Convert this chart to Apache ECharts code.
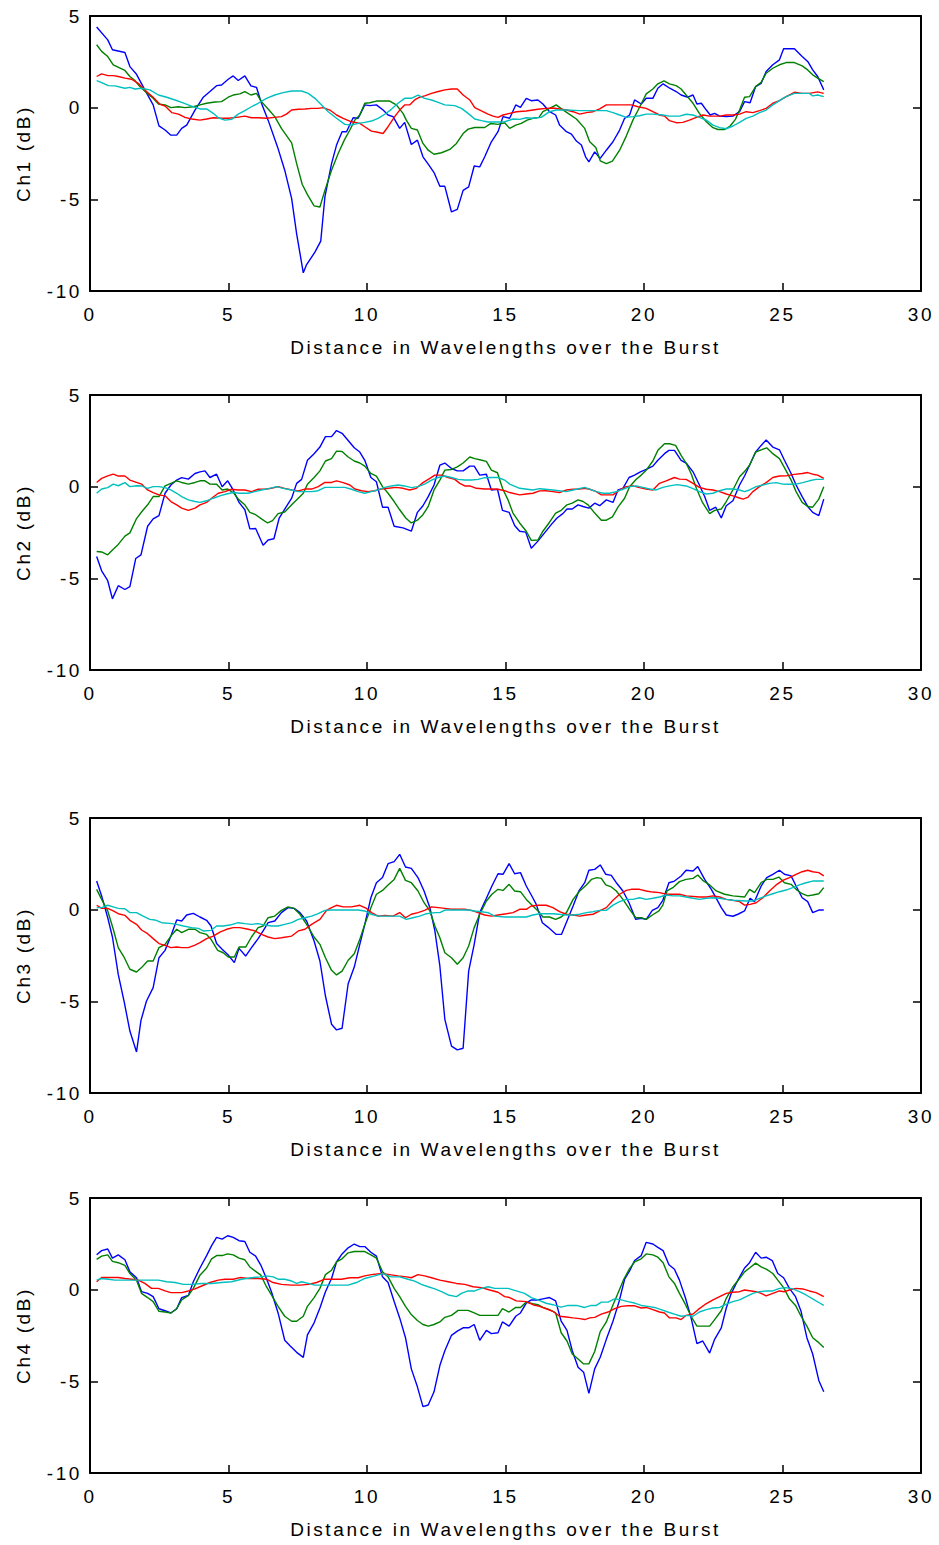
<!DOCTYPE html>
<html>
<head>
<meta charset="utf-8">
<script src="https://cdn.jsdelivr.net/npm/echarts@6/dist/echarts.min.js"></script>
<style>
  html, body { margin: 0; padding: 0; background: #fff; }
  #chart { width: 939px; height: 1545px; }
  #chart text { letter-spacing: 2.6px; }
</style>
</head>
<body>
<div id="chart"></div>
<script>
// Axis ticks shared by every panel
const xTicks = [0, 5, 10, 15, 20, 25, 30];
const yTicks = [-10, -5, 0, 5];
const xTitle = 'Distance in Wavelengths over the Burst';
const yTitles = ['Ch1 (dB)', 'Ch2 (dB)', 'Ch3 (dB)', 'Ch4 (dB)'];

// Channel 1 traces: [distance, dB]
const ch1Blue = [[0.24,4.40],[0.64,3.70],[0.81,3.16],[1.26,3.01],[1.44,2.24],[1.68,1.82],[1.98,0.97],[2.28,0.15],[2.49,-0.99],[2.71,-1.22],[2.92,-1.50],[3.13,-1.50],[3.31,-1.13],[3.49,-0.95],[3.79,-0.13],[4.09,0.57],[4.33,0.88],[4.57,1.20],[4.75,1.24],[4.99,1.55],[5.17,1.73],[5.35,1.48],[5.59,1.73],[5.81,1.19],[6.01,1.11],[6.19,0.24],[6.43,-0.68],[6.77,-2.14],[7.03,-3.41],[7.28,-4.96],[7.46,-6.88],[7.70,-9.01],[7.82,-8.56],[8.12,-7.88],[8.33,-7.28],[8.48,-4.87],[8.72,-3.05],[8.90,-2.04],[9.10,-1.31],[9.26,-1.31],[9.50,-0.55],[9.68,-0.58],[9.92,0.15],[10.10,0.11],[10.34,0.15],[10.58,-0.13],[10.76,-0.40],[10.94,-0.49],[11.18,-1.13],[11.36,-0.80],[11.60,-2.01],[11.82,-1.77],[12.02,-2.68],[12.21,-3.08],[12.42,-3.54],[12.63,-4.29],[12.81,-4.29],[13.05,-5.69],[13.26,-5.55],[13.47,-4.51],[13.67,-4.32],[13.87,-3.18],[14.07,-3.23],[14.25,-2.68],[14.49,-1.86],[14.73,-1.31],[14.91,-0.49],[15.15,-0.58],[15.37,0.15],[15.54,0.02],[15.75,0.51],[15.93,0.38],[16.17,0.42],[16.35,0.20],[16.59,-0.22],[16.81,-0.40],[16.95,-0.95],[17.20,-1.31],[17.38,-1.44],[17.56,-1.82],[17.74,-2.04],[17.89,-2.68],[18.01,-2.96],[18.22,-2.41],[18.42,-2.77],[18.64,-2.32],[18.88,-1.86],[19.12,-1.22],[19.30,-0.58],[19.48,-0.40],[19.66,0.42],[19.90,0.20],[20.08,0.51],[20.32,0.51],[20.50,1.06],[20.69,1.30],[20.93,1.06],[21.16,0.88],[21.34,0.69],[21.58,0.57],[21.77,0.69],[21.91,0.20],[22.07,0.24],[22.25,-0.13],[22.39,-0.40],[22.55,-0.31],[22.73,-0.46],[22.97,-0.49],[23.21,-0.46],[23.45,-0.22],[23.63,0.33],[23.83,0.27],[24.03,1.15],[24.23,1.33],[24.41,1.97],[24.65,2.34],[24.89,2.61],[25.04,3.21],[25.43,3.21],[25.71,2.79],[25.91,2.52],[26.09,2.06],[26.27,1.70],[26.49,0.97]];
const ch1Green = [[0.24,3.43],[0.42,3.07],[0.64,2.79],[0.84,2.34],[1.26,2.03],[1.44,1.70],[1.62,1.48],[1.80,1.15],[2.04,0.82],[2.28,0.51],[2.47,0.20],[2.71,0.15],[2.92,0.00],[3.19,0.05],[3.43,0.00],[3.73,0.05],[3.97,0.15],[4.21,0.24],[4.51,0.31],[4.75,0.33],[4.99,0.57],[5.17,0.69],[5.41,0.75],[5.59,0.88],[5.81,0.69],[6.01,0.78],[6.19,0.33],[6.43,-0.07],[6.67,-0.49],[6.91,-1.13],[7.28,-1.92],[7.46,-3.05],[7.66,-4.18],[7.85,-4.74],[8.09,-5.36],[8.30,-5.42],[8.48,-4.51],[8.72,-3.41],[8.96,-2.50],[9.18,-1.77],[9.38,-1.22],[9.56,-0.68],[9.74,-0.40],[9.92,0.24],[10.10,0.27],[10.34,0.36],[10.82,0.36],[11.06,0.15],[11.30,-0.31],[11.42,-0.68],[11.60,-1.13],[11.82,-1.22],[12.02,-1.95],[12.21,-2.32],[12.42,-2.54],[12.69,-2.46],[12.99,-2.28],[13.23,-1.95],[13.47,-1.41],[13.65,-1.17],[13.89,-1.08],[14.25,-1.08],[14.47,-0.86],[14.73,-0.91],[14.97,-0.82],[15.15,-1.13],[15.37,-0.95],[15.57,-0.86],[15.78,-0.68],[15.99,-0.58],[16.21,-0.53],[16.35,-0.22],[16.59,-0.04],[16.83,0.15],[17.01,-0.05],[17.26,-0.31],[17.56,-0.62],[17.86,-1.13],[18.04,-1.86],[18.26,-2.17],[18.42,-2.90],[18.64,-3.05],[18.86,-2.92],[19.12,-2.32],[19.36,-1.55],[19.60,-0.68],[19.84,0.02],[20.08,0.75],[20.32,1.02],[20.50,1.30],[20.72,1.46],[20.92,1.30],[21.16,1.20],[21.34,1.02],[21.52,0.69],[21.77,0.24],[22.00,-0.31],[22.25,-0.77],[22.49,-1.09],[22.67,-1.19],[22.91,-1.19],[23.11,-1.00],[23.30,-0.64],[23.45,-0.13],[23.63,0.57],[23.81,0.60],[24.03,1.15],[24.23,1.39],[24.41,1.88],[24.65,2.15],[24.89,2.34],[25.13,2.46],[25.43,2.46],[25.71,2.28],[25.91,2.06],[26.09,1.79],[26.27,1.61],[26.49,1.42]];
const ch1Red = [[0.24,1.70],[0.42,1.84],[0.64,1.75],[0.84,1.75],[1.02,1.70],[1.26,1.61],[1.50,1.55],[1.74,1.33],[2.04,0.88],[2.28,0.57],[2.53,0.18],[2.71,0.09],[2.95,-0.27],[3.19,-0.35],[3.43,-0.53],[3.67,-0.62],[3.97,-0.68],[4.21,-0.62],[4.45,-0.55],[4.75,-0.58],[4.99,-0.58],[5.29,-0.53],[5.59,-0.46],[5.83,-0.55],[6.07,-0.55],[6.37,-0.58],[6.67,-0.53],[6.91,-0.49],[7.09,-0.35],[7.28,-0.13],[7.52,-0.09],[7.76,-0.07],[8.00,-0.04],[8.24,-0.04],[8.42,0.00],[8.66,-0.13],[8.90,-0.40],[9.14,-0.58],[9.44,-0.77],[9.74,-0.86],[9.92,-1.04],[10.16,-1.28],[10.34,-1.33],[10.58,-1.41],[10.76,-1.04],[11.00,-0.49],[11.18,-0.13],[11.36,0.15],[11.54,0.15],[11.72,0.42],[11.90,0.57],[12.08,0.64],[12.33,0.78],[12.57,0.88],[12.81,0.97],[13.05,1.02],[13.26,1.02],[13.47,0.69],[13.71,0.42],[13.89,0.00],[14.13,-0.18],[14.37,-0.35],[14.55,-0.46],[14.73,-0.53],[14.91,-0.40],[15.15,-0.31],[15.39,-0.22],[15.75,-0.18],[16.17,-0.09],[16.47,-0.04],[16.71,-0.02],[16.95,-0.07],[17.20,-0.13],[17.44,-0.22],[17.68,-0.35],[17.92,-0.27],[18.16,-0.22],[18.40,-0.07],[18.64,0.15],[19.12,0.15],[19.54,0.15],[19.78,0.05],[20.08,-0.04],[20.32,-0.22],[20.56,-0.40],[20.74,-0.46],[20.92,-0.71],[21.16,-0.82],[21.40,-0.80],[21.64,-0.68],[21.89,-0.53],[22.13,-0.40],[22.37,-0.46],[22.73,-0.46],[22.97,-0.40],[23.21,-0.40],[23.45,-0.35],[23.69,-0.22],[23.93,-0.27],[24.17,-0.16],[24.41,-0.04],[24.65,0.24],[24.89,0.38],[25.13,0.60],[25.43,0.84],[25.71,0.78],[25.97,0.78],[26.27,0.86],[26.49,0.78]];
const ch1Cyan = [[0.24,1.48],[0.42,1.37],[0.66,1.20],[0.90,1.19],[1.26,1.06],[1.44,1.11],[1.62,1.02],[1.86,1.06],[2.16,0.97],[2.47,0.69],[2.77,0.57],[3.07,0.42],[3.31,0.29],[3.55,0.15],[3.79,0.02],[3.97,-0.07],[4.21,-0.07],[4.45,-0.31],[4.63,-0.55],[4.87,-0.68],[5.11,-0.64],[5.35,-0.35],[5.59,-0.16],[5.83,0.05],[6.07,0.24],[6.37,0.51],[6.67,0.69],[6.97,0.82],[7.28,0.91],[7.64,0.91],[7.88,0.78],[8.12,0.51],[8.36,0.15],[8.60,-0.22],[8.90,-0.58],[9.20,-0.91],[9.44,-0.95],[9.68,-0.86],[9.92,-0.80],[10.16,-0.73],[10.40,-0.58],[10.64,-0.36],[10.88,-0.09],[11.12,0.24],[11.36,0.51],[11.60,0.51],[11.84,0.69],[12.08,0.51],[12.33,0.42],[12.57,0.29],[12.81,0.15],[13.17,0.11],[13.41,-0.04],[13.65,-0.31],[13.89,-0.62],[14.13,-0.71],[14.37,-0.78],[14.73,-0.78],[14.97,-0.77],[15.27,-0.62],[15.51,-0.64],[15.75,-0.55],[15.99,-0.58],[16.29,-0.53],[16.59,-0.22],[16.83,-0.13],[17.20,-0.13],[17.68,-0.16],[18.04,-0.16],[18.64,-0.16],[18.88,-0.27],[19.12,-0.40],[19.36,-0.53],[19.60,-0.49],[19.84,-0.44],[20.08,-0.35],[20.32,-0.35],[20.68,-0.40],[20.92,-0.46],[21.28,-0.46],[21.52,-0.36],[21.77,-0.40],[22.00,-0.53],[22.25,-0.68],[22.49,-0.95],[22.73,-1.09],[22.97,-1.15],[23.21,-1.00],[23.45,-0.80],[23.69,-0.58],[23.93,-0.46],[24.17,-0.27],[24.41,-0.13],[24.65,0.15],[24.89,0.38],[25.13,0.60],[25.43,0.78],[25.71,0.78],[25.97,0.78],[26.09,0.64],[26.27,0.69],[26.49,0.60]];

// Channel 2 traces
const ch2Blue = [[0.24,-3.81],[0.42,-4.59],[0.64,-5.13],[0.81,-6.12],[1.02,-5.40],[1.26,-5.61],[1.44,-5.45],[1.65,-3.92],[1.84,-3.72],[2.08,-2.16],[2.28,-1.76],[2.49,-1.58],[2.71,-0.36],[2.92,0.09],[3.13,0.36],[3.31,0.49],[3.55,0.41],[3.79,0.72],[3.97,0.81],[4.15,0.86],[4.33,0.50],[4.57,0.68],[4.77,0.00],[4.97,0.32],[5.17,-0.18],[5.38,-0.86],[5.59,-1.26],[5.77,-2.30],[5.98,-2.28],[6.25,-3.20],[6.43,-2.91],[6.64,-2.84],[6.83,-1.71],[7.03,-1.22],[7.28,-0.63],[7.46,0.18],[7.64,0.40],[7.85,1.44],[8.09,1.80],[8.30,2.16],[8.50,2.73],[8.72,2.73],[8.90,3.06],[9.10,2.91],[9.32,2.52],[9.54,2.12],[9.74,1.89],[9.92,1.44],[10.14,0.50],[10.34,0.27],[10.56,-1.12],[10.76,-1.12],[10.98,-2.16],[11.30,-2.25],[11.60,-2.43],[11.82,-1.40],[12.02,-1.04],[12.21,-0.54],[12.42,0.09],[12.63,1.17],[12.81,1.29],[13.05,0.99],[13.26,0.86],[13.47,0.86],[13.71,1.12],[13.87,1.12],[14.07,0.63],[14.31,0.68],[14.49,-0.18],[14.71,-0.14],[14.89,-1.29],[15.13,-1.40],[15.33,-2.12],[15.51,-2.43],[15.73,-2.48],[15.93,-3.36],[16.17,-2.97],[16.41,-2.52],[16.65,-2.07],[16.86,-1.71],[17.07,-1.47],[17.22,-1.22],[17.41,-1.22],[17.62,-0.99],[17.80,-1.08],[18.01,-1.17],[18.22,-0.90],[18.40,-1.04],[18.64,-0.72],[18.88,-0.86],[19.06,-0.18],[19.24,-0.09],[19.46,0.50],[19.66,0.63],[19.87,0.81],[20.08,0.94],[20.32,1.12],[20.50,1.44],[20.74,1.80],[20.90,1.98],[21.10,1.98],[21.34,1.44],[21.52,1.29],[21.77,0.81],[22.00,0.09],[22.19,-0.54],[22.37,-1.29],[22.59,-1.12],[22.79,-1.71],[22.97,-1.04],[23.21,-0.77],[23.45,0.09],[23.63,0.58],[23.81,1.17],[24.03,1.89],[24.23,2.25],[24.41,2.55],[24.65,2.16],[24.89,2.01],[25.07,1.44],[25.31,0.72],[25.49,0.09],[25.71,-0.54],[25.91,-1.08],[26.09,-1.40],[26.31,-1.58],[26.49,-0.68]];
const ch2Green = [[0.24,-3.54],[0.42,-3.56],[0.64,-3.72],[0.84,-3.42],[1.02,-3.15],[1.26,-2.70],[1.44,-2.52],[1.68,-1.74],[1.86,-1.38],[2.08,-0.99],[2.28,-0.54],[2.49,-0.54],[2.71,0.04],[2.92,0.18],[3.13,0.32],[3.31,0.23],[3.55,0.14],[3.79,0.23],[3.97,0.32],[4.15,0.32],[4.33,0.14],[4.57,0.13],[4.77,-0.18],[4.97,-0.13],[5.17,-0.32],[5.38,-0.72],[5.59,-0.99],[5.77,-1.40],[5.98,-1.53],[6.19,-1.76],[6.41,-1.98],[6.59,-1.85],[6.79,-1.47],[7.03,-1.38],[7.28,-0.99],[7.52,-0.63],[7.70,-0.36],[7.85,0.13],[8.09,0.50],[8.30,0.86],[8.50,1.40],[8.72,1.53],[8.90,1.94],[9.10,1.92],[9.32,1.62],[9.54,1.40],[9.74,1.29],[9.92,1.12],[10.14,0.72],[10.34,0.58],[10.56,0.00],[10.76,-0.36],[10.98,-0.81],[11.18,-1.26],[11.40,-1.71],[11.60,-1.98],[11.82,-1.83],[12.02,-1.53],[12.21,-1.08],[12.42,-0.18],[12.63,0.36],[12.81,0.90],[13.05,0.94],[13.26,1.08],[13.47,1.29],[13.71,1.62],[13.89,1.53],[14.07,1.47],[14.31,1.38],[14.49,0.90],[14.71,0.76],[14.89,-0.09],[15.09,-0.72],[15.27,-1.44],[15.51,-1.98],[15.75,-2.43],[15.93,-2.93],[16.17,-2.91],[16.35,-2.43],[16.59,-1.94],[16.81,-1.44],[17.01,-1.29],[17.22,-0.99],[17.41,-0.90],[17.62,-0.72],[17.80,-0.81],[17.98,-0.99],[18.22,-1.44],[18.46,-1.83],[18.64,-1.83],[18.86,-1.65],[19.06,-1.12],[19.30,-0.63],[19.48,0.00],[19.72,0.40],[19.90,0.63],[20.08,0.90],[20.32,1.40],[20.50,1.98],[20.74,2.34],[20.92,2.34],[21.14,2.25],[21.34,1.71],[21.52,1.29],[21.71,0.68],[21.89,-0.09],[22.11,-0.86],[22.37,-1.47],[22.55,-1.29],[22.79,-1.22],[22.97,-0.81],[23.21,-0.18],[23.45,0.54],[23.67,0.90],[23.81,1.17],[24.03,1.89],[24.23,2.01],[24.43,2.12],[24.65,1.80],[24.89,1.53],[25.07,1.04],[25.31,0.36],[25.49,-0.27],[25.71,-0.86],[25.91,-1.08],[26.09,-1.12],[26.31,-0.68],[26.49,0.00]];
const ch2Red = [[0.24,0.23],[0.42,0.45],[0.64,0.59],[0.84,0.68],[1.02,0.58],[1.26,0.58],[1.44,0.36],[1.68,0.23],[1.86,0.14],[2.08,-0.18],[2.28,-0.32],[2.49,-0.45],[2.71,-0.50],[2.92,-0.81],[3.13,-0.99],[3.31,-1.17],[3.55,-1.29],[3.79,-1.17],[3.97,-0.99],[4.21,-0.86],[4.39,-0.63],[4.63,-0.36],[4.87,-0.27],[5.11,-0.14],[5.35,-0.18],[5.59,-0.18],[5.83,-0.27],[6.07,-0.14],[6.31,-0.14],[6.55,-0.09],[6.79,0.00],[7.03,-0.09],[7.28,-0.18],[7.52,-0.23],[7.76,-0.13],[8.00,-0.13],[8.24,0.00],[8.48,0.23],[8.72,0.23],[8.90,0.32],[9.14,0.22],[9.38,0.09],[9.56,-0.13],[9.80,-0.22],[10.04,-0.27],[10.28,-0.22],[10.52,-0.13],[10.76,-0.09],[11.06,-0.04],[11.30,-0.09],[11.54,-0.18],[11.78,-0.09],[12.02,0.22],[12.27,0.45],[12.45,0.63],[12.69,0.63],[12.93,0.50],[13.17,0.40],[13.35,0.18],[13.53,0.04],[13.71,0.04],[13.95,-0.09],[14.25,-0.13],[14.49,-0.13],[14.73,-0.14],[14.97,-0.22],[15.15,-0.32],[15.51,-0.45],[15.75,-0.40],[15.99,-0.36],[16.23,-0.23],[16.47,-0.22],[16.71,-0.27],[16.95,-0.32],[17.20,-0.18],[17.44,-0.14],[17.68,-0.13],[17.86,-0.09],[18.04,-0.14],[18.28,-0.27],[18.46,-0.45],[18.88,-0.45],[19.12,-0.18],[19.36,0.00],[19.60,0.04],[19.84,-0.05],[20.08,-0.13],[20.32,-0.18],[20.56,0.18],[20.80,0.32],[21.10,0.50],[21.28,0.41],[21.52,0.40],[21.77,0.18],[22.00,-0.04],[22.25,-0.14],[22.49,-0.18],[22.73,-0.27],[22.97,-0.40],[23.21,-0.50],[23.39,-0.59],[23.57,-0.68],[23.75,-0.58],[23.93,-0.27],[24.17,0.00],[24.41,0.22],[24.65,0.50],[24.89,0.58],[25.13,0.59],[25.43,0.67],[25.71,0.72],[25.91,0.77],[26.09,0.68],[26.27,0.63],[26.49,0.45]];
const ch2Cyan = [[0.24,-0.36],[0.42,-0.13],[0.64,-0.05],[0.84,0.14],[1.02,0.05],[1.26,0.22],[1.44,0.00],[1.68,0.05],[1.86,0.04],[2.08,-0.09],[2.28,0.00],[2.49,0.00],[2.71,-0.05],[2.92,-0.18],[3.13,-0.36],[3.31,-0.54],[3.55,-0.72],[3.79,-0.81],[3.97,-0.86],[4.21,-0.77],[4.45,-0.63],[4.69,-0.50],[4.93,-0.40],[5.17,-0.32],[5.41,-0.36],[5.71,-0.36],[5.95,-0.27],[6.19,-0.18],[6.49,-0.09],[6.73,0.00],[6.97,-0.09],[7.28,-0.18],[7.52,-0.27],[7.76,-0.27],[8.00,-0.27],[8.24,-0.22],[8.48,-0.04],[8.72,-0.04],[8.96,-0.04],[9.20,-0.04],[9.44,-0.14],[9.68,-0.27],[9.92,-0.36],[10.16,-0.27],[10.40,-0.18],[10.64,-0.04],[10.88,0.04],[11.12,0.09],[11.36,0.04],[11.60,-0.05],[11.84,0.00],[12.08,0.14],[12.33,0.36],[12.57,0.50],[12.81,0.58],[13.05,0.50],[13.29,0.40],[13.53,0.36],[13.77,0.36],[14.01,0.40],[14.25,0.49],[14.49,0.50],[14.73,0.50],[14.97,0.36],[15.15,0.14],[15.51,-0.09],[15.99,-0.18],[16.23,-0.11],[16.71,-0.18],[17.20,-0.27],[17.44,-0.18],[17.86,-0.04],[18.28,-0.27],[18.52,-0.36],[18.76,-0.36],[19.00,-0.27],[19.24,-0.14],[19.48,0.00],[19.72,0.04],[19.96,-0.04],[20.20,-0.13],[20.44,-0.18],[20.68,-0.04],[20.92,0.04],[21.19,0.11],[21.52,0.04],[21.77,-0.11],[22.00,-0.27],[22.25,-0.40],[22.49,-0.36],[22.73,-0.22],[22.97,-0.13],[23.21,-0.13],[23.45,-0.18],[23.63,-0.27],[23.81,-0.18],[24.05,0.00],[24.29,0.09],[24.53,0.18],[24.77,0.22],[25.01,0.14],[25.25,0.13],[25.49,0.14],[25.73,0.22],[25.97,0.32],[26.21,0.40],[26.49,0.40]];

// Channel 3 traces
const ch3Blue = [[0.24,1.56],[0.42,0.75],[0.64,-0.44],[0.81,-1.49],[1.02,-3.53],[1.24,-5.07],[1.44,-6.62],[1.68,-7.76],[1.84,-6.04],[2.04,-4.98],[2.28,-4.25],[2.49,-2.62],[2.71,-2.22],[2.92,-1.44],[3.13,-0.56],[3.31,-0.62],[3.49,-0.29],[3.73,-0.20],[3.97,-0.40],[4.21,-0.58],[4.37,-0.89],[4.57,-1.85],[4.77,-2.16],[4.99,-2.47],[5.21,-2.89],[5.38,-2.11],[5.62,-2.53],[5.83,-2.07],[6.07,-1.58],[6.25,-1.16],[6.43,-0.71],[6.67,-0.62],[6.91,-0.16],[7.15,0.11],[7.37,0.07],[7.58,-0.16],[7.82,-0.62],[8.09,-1.71],[8.30,-2.80],[8.50,-4.71],[8.72,-6.25],[8.90,-6.56],[9.10,-6.47],[9.32,-4.04],[9.54,-3.13],[9.74,-1.89],[9.92,-0.80],[10.14,0.65],[10.34,1.47],[10.56,1.75],[10.76,2.51],[10.98,2.62],[11.18,3.02],[11.39,2.33],[11.60,2.25],[11.84,1.75],[12.06,1.02],[12.27,0.11],[12.45,-1.16],[12.63,-3.07],[12.81,-5.98],[13.05,-7.44],[13.26,-7.65],[13.47,-7.56],[13.67,-3.35],[13.87,-1.89],[14.07,-0.16],[14.31,0.62],[14.51,1.29],[14.73,1.96],[14.91,1.93],[15.13,2.51],[15.33,1.96],[15.54,2.02],[15.75,1.29],[15.97,0.69],[16.11,0.29],[16.33,-0.71],[16.53,-0.95],[16.83,-1.35],[17.02,-1.35],[17.22,-0.62],[17.44,0.20],[17.65,1.02],[17.86,1.47],[18.01,2.15],[18.22,2.20],[18.42,2.44],[18.62,1.93],[18.82,1.87],[19.00,1.47],[19.24,1.02],[19.46,0.38],[19.70,-0.53],[19.90,-0.47],[20.08,-0.53],[20.30,-0.04],[20.50,0.11],[20.68,0.51],[20.90,1.47],[21.10,1.56],[21.34,1.84],[21.52,2.15],[21.77,2.11],[21.94,2.35],[22.19,1.65],[22.43,1.11],[22.61,0.62],[22.79,0.11],[22.97,-0.29],[23.21,-0.36],[23.39,-0.25],[23.63,-0.07],[23.83,0.62],[23.99,0.44],[24.23,1.29],[24.43,1.75],[24.65,1.93],[24.89,2.15],[25.07,1.93],[25.31,1.84],[25.49,1.29],[25.71,0.65],[25.91,0.44],[26.09,-0.16],[26.31,-0.02],[26.49,-0.02]];
const ch3Green = [[0.24,1.11],[0.42,0.56],[0.64,-0.07],[0.84,-1.07],[1.02,-2.07],[1.24,-2.62],[1.44,-3.25],[1.68,-3.40],[1.86,-3.16],[2.08,-2.80],[2.28,-2.80],[2.49,-2.07],[2.71,-1.89],[2.92,-1.44],[3.13,-1.07],[3.31,-1.25],[3.55,-1.07],[3.79,-1.07],[3.97,-1.25],[4.21,-1.35],[4.37,-1.62],[4.61,-2.22],[4.81,-2.35],[4.99,-2.58],[5.21,-2.58],[5.38,-2.04],[5.62,-2.04],[5.83,-1.49],[6.07,-0.98],[6.25,-0.89],[6.43,-0.44],[6.67,-0.35],[6.91,-0.04],[7.15,0.15],[7.37,0.07],[7.58,-0.25],[7.82,-0.80],[8.09,-1.49],[8.30,-1.89],[8.50,-2.62],[8.72,-3.31],[8.90,-3.56],[9.10,-3.35],[9.32,-2.76],[9.54,-2.40],[9.74,-1.62],[9.92,-0.80],[10.14,0.11],[10.34,0.84],[10.56,1.05],[10.76,1.35],[10.98,1.65],[11.18,2.25],[11.39,1.60],[11.60,1.47],[11.84,1.02],[12.06,0.38],[12.27,-0.07],[12.45,-0.89],[12.63,-1.53],[12.81,-2.35],[13.05,-2.62],[13.26,-2.98],[13.47,-2.62],[13.67,-1.98],[13.87,-0.98],[14.07,-0.25],[14.31,0.47],[14.51,0.84],[14.73,1.11],[14.91,1.05],[15.13,1.38],[15.33,1.02],[15.54,0.98],[15.75,0.56],[15.99,0.20],[16.23,-0.16],[16.35,-0.40],[16.59,-0.40],[16.81,-0.53],[17.01,-0.40],[17.20,-0.16],[17.44,0.56],[17.68,1.02],[17.92,1.35],[18.10,1.65],[18.30,1.75],[18.46,1.71],[18.62,1.35],[18.82,1.24],[19.00,1.02],[19.24,0.56],[19.48,0.02],[19.70,-0.44],[19.90,-0.44],[20.08,-0.53],[20.30,-0.29],[20.54,-0.07],[20.68,0.25],[20.83,1.02],[21.04,1.20],[21.28,1.53],[21.52,1.65],[21.77,1.71],[21.94,1.89],[22.12,1.60],[22.37,1.35],[22.61,1.02],[22.91,0.84],[23.21,0.75],[23.63,0.69],[23.81,1.11],[23.99,0.93],[24.23,1.47],[24.43,1.65],[24.65,1.65],[24.87,1.78],[25.07,1.47],[25.31,1.38],[25.49,1.11],[25.71,0.87],[25.91,0.75],[26.09,0.80],[26.31,0.87],[26.49,1.20]];
const ch3Red = [[0.24,0.24],[0.42,0.07],[0.64,0.07],[0.84,-0.07],[1.02,-0.22],[1.26,-0.31],[1.44,-0.58],[1.68,-0.80],[1.86,-1.11],[2.08,-1.31],[2.28,-1.58],[2.49,-1.85],[2.71,-1.95],[2.92,-2.07],[3.13,-2.04],[3.31,-2.07],[3.55,-2.07],[3.79,-1.93],[3.97,-1.80],[4.21,-1.58],[4.45,-1.44],[4.69,-1.22],[4.93,-1.07],[5.17,-0.98],[5.41,-0.98],[5.71,-1.07],[5.95,-1.16],[6.19,-1.35],[6.43,-1.49],[6.67,-1.58],[6.91,-1.53],[7.28,-1.44],[7.52,-1.16],[7.76,-1.07],[8.00,-0.80],[8.30,-0.53],[8.54,-0.04],[8.72,0.11],[8.90,0.24],[9.14,0.15],[9.44,0.15],[9.74,0.24],[9.98,0.07],[10.16,-0.16],[10.40,-0.35],[10.64,-0.31],[10.94,-0.35],[11.18,-0.16],[11.39,-0.44],[11.60,-0.25],[11.84,-0.16],[12.08,-0.04],[12.33,0.15],[12.57,0.11],[12.81,0.07],[13.05,0.02],[13.29,0.02],[13.53,0.02],[13.77,-0.04],[14.01,-0.16],[14.25,-0.29],[14.49,-0.35],[14.73,-0.29],[15.03,-0.22],[15.27,-0.16],[15.51,0.02],[15.75,0.02],[15.93,0.20],[16.17,0.24],[16.47,0.24],[16.71,0.11],[16.95,-0.11],[17.20,-0.25],[17.44,-0.29],[17.68,-0.35],[17.92,-0.29],[18.16,-0.25],[18.40,-0.07],[18.64,0.11],[18.88,0.51],[19.12,0.84],[19.36,1.05],[19.54,1.11],[19.84,1.11],[20.08,1.02],[20.32,0.96],[20.56,0.93],[20.80,0.84],[21.28,0.84],[21.52,0.75],[22.00,0.69],[22.25,0.69],[22.49,0.75],[22.73,0.69],[22.97,0.56],[23.21,0.51],[23.45,0.44],[23.63,0.25],[23.83,0.29],[24.05,0.38],[24.29,0.65],[24.53,1.02],[24.77,1.35],[25.01,1.60],[25.25,1.75],[25.49,1.93],[25.71,2.07],[25.91,2.15],[26.09,2.07],[26.31,2.02],[26.49,1.84]];
const ch3Cyan = [[0.24,0.11],[0.42,0.11],[0.64,0.24],[0.84,0.15],[1.02,0.07],[1.26,0.05],[1.44,-0.16],[1.68,-0.16],[1.92,-0.35],[2.16,-0.53],[2.34,-0.56],[2.59,-0.71],[2.89,-0.75],[3.13,-0.80],[3.37,-0.89],[3.67,-0.98],[3.91,-1.02],[4.09,-1.16],[4.37,-1.13],[4.57,-0.89],[4.81,-0.89],[5.05,-0.84],[5.35,-0.71],[5.59,-0.76],[5.83,-0.80],[6.07,-0.76],[6.31,-0.84],[6.55,-0.89],[6.79,-0.89],[7.03,-0.80],[7.28,-0.71],[7.52,-0.53],[7.76,-0.44],[8.00,-0.35],[8.24,-0.22],[8.48,-0.04],[8.72,-0.02],[8.96,-0.02],[9.20,-0.02],[9.44,-0.02],[9.68,-0.02],[9.92,-0.07],[10.16,-0.25],[10.40,-0.35],[10.64,-0.35],[10.88,-0.35],[11.18,-0.35],[11.42,-0.53],[11.66,-0.44],[11.90,-0.35],[12.15,-0.22],[12.45,-0.16],[12.63,-0.16],[12.81,-0.02],[13.05,-0.02],[13.41,-0.02],[13.65,-0.02],[13.89,-0.07],[14.13,-0.11],[14.37,-0.16],[14.61,-0.35],[14.97,-0.40],[15.27,-0.40],[15.75,-0.40],[15.99,-0.29],[16.23,-0.22],[16.71,-0.22],[17.20,-0.29],[17.44,-0.29],[17.68,-0.25],[17.92,-0.16],[18.16,-0.11],[18.40,-0.04],[18.64,-0.04],[18.88,0.25],[19.12,0.44],[19.36,0.56],[19.60,0.56],[19.84,0.65],[20.08,0.56],[20.32,0.62],[20.56,0.69],[20.80,0.80],[21.04,0.75],[21.28,0.75],[21.52,0.69],[21.77,0.62],[22.00,0.56],[22.25,0.62],[22.49,0.65],[22.73,0.62],[22.97,0.56],[23.21,0.51],[23.69,0.47],[23.93,0.47],[24.17,0.62],[24.41,0.75],[24.65,0.87],[24.89,0.98],[25.13,1.07],[25.37,1.20],[25.61,1.35],[25.85,1.47],[26.09,1.56],[26.49,1.56]];

// Channel 4 traces
const ch4Blue = [[0.24,1.90],[0.42,2.13],[0.64,2.22],[0.81,1.72],[1.02,1.90],[1.26,1.63],[1.44,0.97],[1.68,0.65],[1.86,-0.11],[2.08,-0.20],[2.28,-0.38],[2.49,-1.04],[2.71,-1.15],[2.92,-1.27],[3.13,-1.04],[3.31,-0.43],[3.55,-0.32],[3.73,0.43],[3.97,1.18],[4.21,1.86],[4.39,2.40],[4.57,2.85],[4.77,2.76],[4.97,2.94],[5.17,2.85],[5.38,2.67],[5.59,2.63],[5.77,2.04],[5.98,1.83],[6.17,1.33],[6.37,0.61],[6.55,-0.11],[6.79,-1.27],[7.03,-2.76],[7.22,-3.06],[7.46,-3.42],[7.70,-3.69],[7.85,-2.47],[8.09,-1.81],[8.30,-1.00],[8.50,-0.11],[8.72,0.61],[8.90,1.51],[9.10,1.95],[9.32,2.28],[9.54,2.49],[9.74,2.35],[9.92,2.35],[10.14,2.04],[10.34,1.83],[10.56,0.70],[10.76,0.39],[10.98,-0.65],[11.18,-1.54],[11.39,-2.62],[11.60,-4.32],[11.82,-5.30],[12.02,-6.38],[12.21,-6.29],[12.42,-5.57],[12.63,-4.14],[12.81,-3.33],[13.05,-2.49],[13.26,-2.26],[13.47,-2.08],[13.67,-2.08],[13.87,-1.90],[14.07,-2.76],[14.31,-2.22],[14.49,-2.40],[14.73,-2.35],[14.89,-1.76],[15.13,-1.99],[15.37,-1.45],[15.54,-1.27],[15.75,-0.73],[15.93,-0.56],[16.17,-0.56],[16.35,-0.50],[16.59,-0.43],[16.81,-0.61],[17.01,-1.72],[17.22,-2.22],[17.41,-3.33],[17.62,-4.23],[17.82,-4.50],[18.01,-5.66],[18.22,-4.32],[18.42,-3.69],[18.64,-2.71],[18.88,-1.72],[19.10,-0.65],[19.30,0.57],[19.48,1.02],[19.66,1.59],[19.90,1.86],[20.08,2.58],[20.32,2.49],[20.50,2.31],[20.69,2.13],[20.90,1.36],[21.10,1.11],[21.28,0.52],[21.50,-0.47],[21.70,-1.54],[21.91,-2.94],[22.12,-2.80],[22.37,-3.46],[22.55,-2.71],[22.79,-2.08],[22.97,-1.00],[23.15,-0.20],[23.39,0.52],[23.63,1.18],[23.81,1.47],[24.03,2.04],[24.23,1.72],[24.41,1.77],[24.63,1.59],[24.83,0.88],[25.04,0.65],[25.25,0.07],[25.47,-0.38],[25.67,-1.18],[25.88,-2.62],[26.09,-3.51],[26.31,-4.95],[26.49,-5.57]];
const ch4Green = [[0.24,1.65],[0.42,1.83],[0.64,1.90],[0.81,1.54],[1.02,1.47],[1.26,1.33],[1.44,0.88],[1.68,0.52],[1.86,-0.20],[2.08,-0.43],[2.28,-0.65],[2.49,-1.18],[2.71,-1.22],[2.92,-1.27],[3.13,-1.04],[3.31,-0.56],[3.55,-0.32],[3.73,0.07],[3.97,0.79],[4.21,1.18],[4.39,1.68],[4.57,1.86],[4.77,1.86],[4.97,1.95],[5.17,1.90],[5.38,1.72],[5.59,1.63],[5.77,1.24],[5.98,1.00],[6.17,0.79],[6.37,0.16],[6.55,-0.29],[6.79,-0.91],[7.03,-1.45],[7.28,-1.72],[7.46,-1.72],[7.70,-1.45],[7.85,-0.91],[8.09,-0.43],[8.30,0.07],[8.50,0.82],[8.72,1.06],[8.90,1.51],[9.10,1.68],[9.32,2.01],[9.54,2.08],[9.92,2.08],[10.14,1.90],[10.34,1.72],[10.56,0.97],[10.76,0.70],[10.98,0.07],[11.18,-0.38],[11.39,-0.91],[11.60,-1.36],[11.82,-1.68],[12.02,-1.90],[12.21,-1.99],[12.42,-1.90],[12.63,-1.76],[12.81,-1.51],[13.05,-1.40],[13.29,-1.13],[13.65,-1.13],[13.87,-1.27],[14.07,-1.40],[14.37,-1.40],[14.73,-1.40],[14.89,-1.04],[15.13,-1.22],[15.37,-0.97],[15.54,-0.97],[15.75,-0.68],[15.99,-0.77],[16.17,-0.82],[16.35,-0.97],[16.59,-1.09],[16.81,-1.27],[17.01,-2.35],[17.22,-2.80],[17.41,-3.51],[17.62,-3.78],[17.82,-4.05],[18.01,-4.05],[18.22,-3.37],[18.42,-2.29],[18.64,-1.76],[18.86,-0.91],[19.06,-0.20],[19.27,0.57],[19.48,1.15],[19.66,1.51],[19.90,1.68],[20.08,1.95],[20.32,1.90],[20.50,1.77],[20.69,1.47],[20.90,0.70],[21.10,0.34],[21.28,-0.20],[21.50,-0.82],[21.70,-1.45],[21.91,-1.99],[22.37,-1.99],[22.55,-1.63],[22.79,-1.15],[22.97,-0.47],[23.21,0.16],[23.45,0.61],[23.63,0.97],[23.81,1.18],[24.03,1.45],[24.23,1.24],[24.43,1.11],[24.65,0.88],[24.83,0.52],[25.04,0.11],[25.25,-0.50],[25.47,-0.86],[25.67,-1.45],[25.88,-1.99],[26.09,-2.62],[26.31,-2.89],[26.49,-3.15]];
const ch4Red = [[0.24,0.43],[0.42,0.66],[1.02,0.66],[1.26,0.61],[1.50,0.57],[1.74,0.52],[1.98,0.34],[2.22,0.07],[2.47,0.07],[2.71,-0.07],[2.92,-0.16],[3.31,-0.16],[3.55,-0.07],[3.79,0.04],[4.03,0.20],[4.33,0.39],[4.63,0.52],[4.87,0.57],[5.17,0.57],[5.41,0.66],[5.71,0.61],[6.07,0.61],[6.37,0.57],[6.61,0.39],[6.91,0.29],[7.28,0.25],[7.58,0.25],[7.88,0.29],[8.18,0.39],[8.48,0.57],[8.78,0.57],[9.08,0.57],[9.38,0.65],[9.68,0.65],[9.92,0.75],[10.16,0.82],[10.52,0.88],[10.82,0.82],[11.12,0.75],[11.42,0.70],[11.60,0.65],[11.84,0.82],[12.08,0.75],[12.33,0.65],[12.63,0.52],[12.93,0.43],[13.23,0.34],[13.53,0.29],[13.83,0.16],[14.13,0.11],[14.43,-0.02],[14.73,-0.14],[14.97,-0.38],[15.15,-0.43],[15.39,-0.61],[15.75,-0.65],[15.99,-0.82],[16.23,-0.91],[16.47,-1.04],[16.71,-1.18],[16.95,-1.45],[17.20,-1.49],[17.44,-1.54],[17.68,-1.58],[17.86,-1.63],[18.04,-1.54],[18.22,-1.51],[18.46,-1.33],[18.70,-1.22],[18.94,-1.04],[19.18,-0.91],[19.42,-0.88],[19.66,-0.88],[19.90,-1.00],[20.08,-0.97],[20.32,-1.09],[20.56,-1.22],[20.74,-1.27],[20.92,-1.54],[21.16,-1.54],[21.34,-1.63],[21.52,-1.40],[21.77,-1.33],[21.95,-1.09],[22.19,-0.82],[22.49,-0.56],[22.73,-0.38],[22.97,-0.20],[23.21,-0.14],[23.45,-0.11],[23.63,-0.02],[23.87,-0.07],[24.05,-0.11],[24.23,-0.20],[24.41,-0.34],[24.65,-0.20],[24.89,-0.07],[25.07,-0.11],[25.25,-0.02],[25.49,0.07],[25.73,0.04],[25.97,-0.07],[26.21,-0.16],[26.49,-0.38]];
const ch4Cyan = [[0.24,0.52],[0.42,0.61],[0.66,0.57],[0.90,0.52],[1.26,0.52],[1.62,0.52],[1.98,0.52],[2.47,0.52],[2.77,0.43],[3.07,0.39],[3.37,0.29],[3.67,0.29],[4.03,0.34],[4.39,0.34],[4.75,0.39],[5.11,0.43],[5.47,0.57],[5.83,0.65],[6.13,0.70],[6.37,0.75],[6.61,0.70],[6.79,0.57],[7.03,0.57],[7.28,0.47],[7.46,0.34],[7.64,0.43],[7.88,0.34],[8.12,0.25],[8.48,0.25],[8.96,0.25],[9.32,0.25],[9.62,0.39],[9.92,0.61],[10.28,0.75],[10.58,0.88],[10.88,0.70],[11.18,0.70],[11.48,0.57],[11.72,0.47],[11.96,0.29],[12.21,0.16],[12.45,0.04],[12.69,-0.11],[12.93,-0.29],[13.23,-0.38],[13.41,-0.20],[13.65,-0.07],[13.89,-0.07],[14.13,0.07],[14.37,0.16],[14.61,0.07],[14.97,0.07],[15.09,0.07],[15.39,-0.07],[15.69,-0.20],[15.93,-0.43],[16.17,-0.56],[16.47,-0.74],[16.71,-0.82],[17.01,-0.95],[17.26,-0.86],[17.56,-0.86],[17.86,-0.97],[18.10,-0.86],[18.28,-0.86],[18.46,-0.68],[18.70,-0.68],[18.94,-0.50],[19.18,-0.56],[19.42,-0.65],[19.66,-0.73],[19.90,-0.86],[20.14,-0.91],[20.38,-0.97],[20.62,-1.09],[20.86,-1.22],[21.10,-1.33],[21.34,-1.45],[21.58,-1.40],[21.77,-1.45],[22.00,-1.22],[22.25,-1.09],[22.49,-1.00],[22.73,-0.97],[22.97,-0.79],[23.21,-0.65],[23.45,-0.56],[23.69,-0.38],[23.93,-0.20],[24.17,-0.11],[24.41,-0.07],[24.65,-0.07],[24.89,0.07],[25.13,0.11],[25.37,0.04],[25.61,-0.11],[25.85,-0.29],[26.09,-0.50],[26.31,-0.70],[26.49,-0.86]];

const channels = [
  [ch1Blue, ch1Green, ch1Red, ch1Cyan],
  [ch2Blue, ch2Green, ch2Red, ch2Cyan],
  [ch3Blue, ch3Green, ch3Red, ch3Cyan],
  [ch4Blue, ch4Green, ch4Red, ch4Cyan]
];
const traceColors = ['#0000ff', '#008000', '#ff0000', '#00bfbf'];

// Panel placement (pixels)
const panelTops = [16, 395, 818, 1198];
const panelHeight = 275;
const FONT = '"Liberation Sans", Arial, Helvetica, sans-serif';

const frameLine = { show: true, onZero: false, lineStyle: { color: '#000', width: 2 } };
const innerTick = { show: true, inside: true, length: 8, lineStyle: { color: '#000', width: 1.5 } };
const labelStyle = { color: '#000', fontSize: 19, fontFamily: FONT };

const grids = [], xAxes = [], yAxes = [], series = [];
channels.forEach((traces, i) => {
  grids.push({ left: 90, right: 18, top: panelTops[i], height: panelHeight, containLabel: false });
  const xBase = {
    type: 'value', gridIndex: i,
    min: xTicks[0], max: xTicks[xTicks.length - 1], interval: xTicks[1] - xTicks[0],
    axisLine: frameLine, axisTick: innerTick, splitLine: { show: false }
  };
  const yBase = {
    type: 'value', gridIndex: i,
    min: yTicks[0], max: yTicks[yTicks.length - 1], interval: yTicks[1] - yTicks[0],
    axisLine: frameLine, axisTick: innerTick, splitLine: { show: false }
  };
  xAxes.push(Object.assign({}, xBase, {
    position: 'bottom',
    axisLabel: Object.assign({ margin: 14 }, labelStyle),
    name: xTitle, nameLocation: 'middle', nameGap: 47,
    nameTextStyle: labelStyle
  }));
  xAxes.push(Object.assign({}, xBase, { position: 'top', axisLabel: { show: false } }));
  yAxes.push(Object.assign({}, yBase, {
    position: 'left',
    axisLabel: Object.assign({ margin: 8 }, labelStyle),
    name: yTitles[i], nameLocation: 'middle', nameGap: 57, nameRotate: 90,
    nameTextStyle: labelStyle
  }));
  yAxes.push(Object.assign({}, yBase, { position: 'right', axisLabel: { show: false } }));
  traces.forEach((pts, k) => {
    series.push({
      type: 'line', xAxisIndex: 2 * i, yAxisIndex: 2 * i,
      data: pts, showSymbol: false, symbol: 'none',
      lineStyle: { color: traceColors[k], width: 1.4 },
      itemStyle: { color: traceColors[k] },
      z: 2 + k
    });
  });
});

const chart = echarts.init(document.getElementById('chart'), null, { renderer: 'svg' });
chart.setOption({
  animation: false,
  backgroundColor: '#fff',
  grid: grids, xAxis: xAxes, yAxis: yAxes, series: series
});
</script>
</body>
</html>
